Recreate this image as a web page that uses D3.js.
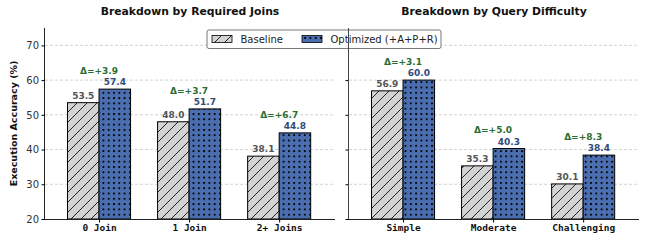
<!DOCTYPE html>
<html>
<head>
<meta charset="utf-8">
<script src="https://cdn.jsdelivr.net/npm/d3@7"></script>
<style>
  html, body { margin: 0; padding: 0; background: #fff; }
  svg { display: block; font-family: "DejaVu Sans", sans-serif; }
</style>
</head>
<body>
<div id="chart"></div>
<script>
// data
const joinCats = ["0 Join", "1 Join", "2+ Joins"];
const joinBase = [53.5, 48.0, 38.1];
const joinOpt = [57.4, 51.7, 44.8];

const diffCats = ["Simple", "Moderate", "Challenging"];
const diffBase = [56.9, 35.3, 30.1];
const diffOpt = [60.0, 40.3, 38.4];

const yTicks = [20, 30, 40, 50, 60, 70];
const titles = ["Breakdown by Required Joins", "Breakdown by Query Difficulty"];
const seriesNames = ["Baseline", "Optimized (+A+P+R)"];

// dimensions
const W = 646, H = 242;
const TOP = 28, BOTTOM = 219;
const panels = [
  { left: 45, right: 335, cats: joinCats, base: joinBase, opt: joinOpt, title: titles[0], labels: true },
  { left: 349, right: 639, cats: diffCats, base: diffBase, opt: diffOpt, title: titles[1], labels: false }
];
const BAR_W = 0.35;

const baseFill = "#d3d3d3";
const optFill = "#4a6eb0";

const svg = d3.select("#chart").append("svg")
  .attr("width", W).attr("height", H);

// patterns
const defs = svg.append("defs");
const HS = 10;
const hatch = defs.append("pattern")
  .attr("id", "hatch").attr("patternUnits", "userSpaceOnUse")
  .attr("width", HS).attr("height", HS);
hatch.append("rect").attr("width", HS).attr("height", HS).attr("fill", baseFill);
hatch.append("path")
  .attr("d", `M-1,${HS + 1} L${HS + 1},-1 M-3,3 L3,-3 M${HS - 3},${HS + 3} L${HS + 3},${HS - 3}`)
  .attr("stroke", "#111").attr("stroke-width", 0.9);

const DS = 5.3;
const dots = defs.append("pattern")
  .attr("id", "dots").attr("patternUnits", "userSpaceOnUse")
  .attr("width", DS).attr("height", DS);
dots.append("rect").attr("width", DS).attr("height", DS).attr("fill", optFill);
dots.append("rect").attr("x", 1.8).attr("y", 1.8).attr("width", 1.8).attr("height", 1.8).attr("fill", "#000");

const scaleY = d3.scaleLinear().domain([20, 75]).range([BOTTOM, TOP]);

panels.forEach(p => {
  const scaleX = d3.scaleLinear().domain([-0.6, 2.62]).range([p.left, p.right]);
  const g = svg.append("g");

  // grid
  g.selectAll(".grid").data(yTicks.slice(1)).join("line")
    .attr("x1", p.left).attr("x2", p.right)
    .attr("y1", d => scaleY(d)).attr("y2", d => scaleY(d))
    .attr("stroke", "#c8c8c8").attr("stroke-width", 0.8)
    .attr("stroke-dasharray", "3,2");

  // bars
  const idx = d3.range(p.cats.length);
  g.selectAll(".base").data(idx).join("rect")
    .attr("x", i => scaleX(i - BAR_W))
    .attr("y", i => scaleY(p.base[i]))
    .attr("width", scaleX(BAR_W) - scaleX(0))
    .attr("height", i => scaleY(20) - scaleY(p.base[i]))
    .attr("fill", "url(#hatch)").attr("stroke", "#000").attr("stroke-width", 1);
  g.selectAll(".opt").data(idx).join("rect")
    .attr("x", i => scaleX(i))
    .attr("y", i => scaleY(p.opt[i]))
    .attr("width", scaleX(BAR_W) - scaleX(0))
    .attr("height", i => scaleY(20) - scaleY(p.opt[i]))
    .attr("fill", "url(#dots)").attr("stroke", "#000").attr("stroke-width", 1);

  // value labels
  g.selectAll(".bl").data(idx).join("text")
    .attr("x", i => scaleX(i - BAR_W / 2))
    .attr("y", i => scaleY(p.base[i]) - 4)
    .attr("text-anchor", "middle").attr("font-size", 9).attr("font-weight", "bold")
    .attr("fill", "#555").text(i => p.base[i].toFixed(1));
  g.selectAll(".ol").data(idx).join("text")
    .attr("x", i => scaleX(i + BAR_W / 2))
    .attr("y", i => scaleY(p.opt[i]) - 4)
    .attr("text-anchor", "middle").attr("font-size", 9).attr("font-weight", "bold")
    .attr("fill", "#2f4b7c").text(i => p.opt[i].toFixed(1));
  g.selectAll(".dl").data(idx).join("text")
    .attr("x", i => scaleX(i))
    .attr("y", i => scaleY(Math.max(p.base[i], p.opt[i]) + 4.4))
    .attr("text-anchor", "middle").attr("font-size", 9).attr("font-weight", "bold")
    .attr("fill", "#2b6e2f").text(i => "Δ=+" + (p.opt[i] - p.base[i]).toFixed(1));

  // axes
  const axX = g.append("g").attr("transform", `translate(0,${BOTTOM})`)
    .call(d3.axisBottom(scaleX).tickValues(idx).tickSize(3.5).tickPadding(2)
      .tickFormat(i => p.cats[i]));
  axX.select(".domain").attr("d", `M${p.left},0.5H${p.right}`).attr("stroke", "#222");
  axX.selectAll("text").attr("font-family", "'DejaVu Sans Mono', monospace")
    .attr("font-weight", "bold").attr("font-size", 9.5).attr("fill", "#111");

  const axY = g.append("g").attr("transform", `translate(${p.left},0)`)
    .call(d3.axisLeft(scaleY).tickValues(yTicks).tickSize(3.5).tickPadding(2.5)
      .tickFormat(p.labels ? d3.format("d") : ""));
  axY.select(".domain").attr("d", `M-0.5,${TOP}V${BOTTOM}`).attr("stroke", "#222");
  axY.selectAll("text").attr("font-size", 10).attr("fill", "#333")
    .attr("font-family", "'DejaVu Sans', sans-serif");

  // title
  svg.append("text")
    .attr("x", (p.left + p.right) / 2).attr("y", 15)
    .attr("text-anchor", "middle").attr("font-size", 10.8).attr("font-weight", "bold")
    .attr("fill", "#111").text(p.title);
});

// y label
svg.append("text")
  .attr("transform", `translate(17,${(TOP + BOTTOM) / 2}) rotate(-90)`)
  .attr("text-anchor", "middle").attr("font-size", 9.5).attr("font-weight", "bold")
  .attr("fill", "#111").text("Execution Accuracy (%)");

// legend
const leg = svg.append("g").attr("transform", "translate(207,30)");
leg.append("rect").attr("width", 234).attr("height", 18.5).attr("rx", 2)
  .attr("fill", "#fff").attr("fill-opacity", 0.9).attr("stroke", "#555").attr("stroke-width", 0.8);
const fills = ["url(#hatch)", "url(#dots)"];
const legX = [5, 95];
seriesNames.forEach((name, i) => {
  leg.append("rect").attr("x", legX[i]).attr("y", 5.5).attr("width", 20).attr("height", 7)
    .attr("fill", fills[i]).attr("stroke", "#000").attr("stroke-width", 0.8);
  leg.append("text").attr("x", legX[i] + 28.5).attr("y", 13.3)
    .attr("font-size", 10).attr("fill", "#222").text(name);
});
// right panel spine sits over the legend
svg.append("line").attr("x1", 348.5).attr("x2", 348.5).attr("y1", TOP).attr("y2", BOTTOM)
  .attr("stroke", "#444").attr("stroke-width", 1);
</script>
</body>
</html>
